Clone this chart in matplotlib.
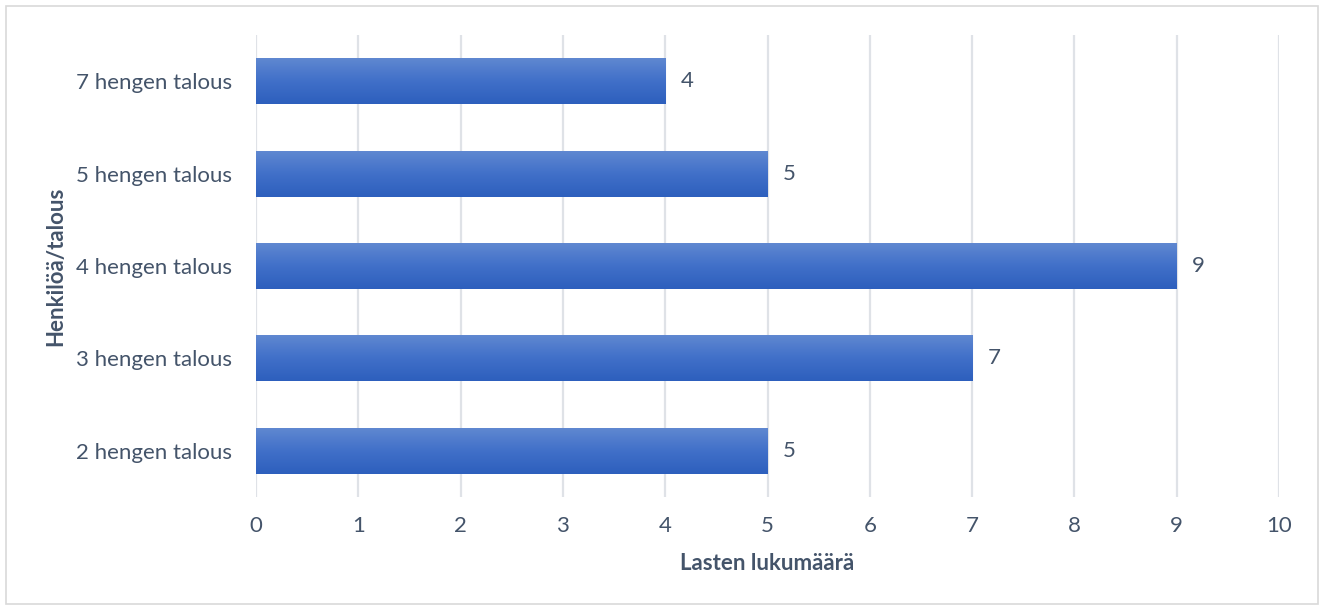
import matplotlib.pyplot as plt
import matplotlib.patches as mpatches
import numpy as np
from matplotlib.colors import LinearSegmentedColormap

# Household sizes and number of children per group
households = ["2 hengen talous", "3 hengen talous", "4 hengen talous",
              "5 hengen talous", "7 hengen talous"]
children = [5, 7, 9, 5, 4]
x_ticks = list(range(0, 11))

TEXT = "#44546a"
GRID = "#dfe2e7"
FS = 16

plt.rcParams["font.family"] = ["Lato", "DejaVu Sans"]

fig = plt.figure(figsize=(13.22, 6.08), dpi=100)
ax = fig.add_axes([256 / 1322, 1 - 497 / 608, (1279 - 256) / 1322, (497 - 35) / 608])

y = np.arange(len(households))
bars = ax.barh(y, children, height=0.5, color="#4472c4", zorder=2)

# vertical gradient fill inside each bar
grad = LinearSegmentedColormap.from_list("bar", ["#2d5fbd", "#4170c9", "#6189d1"])
ramp = np.linspace(0, 1, 256).reshape(-1, 1)
for b in bars:
    x0, y0 = b.get_x(), b.get_y()
    w, h = b.get_width(), b.get_height()
    im = ax.imshow(ramp, cmap=grad, aspect="auto", origin="lower",
                   extent=(x0, x0 + w, y0, y0 + h), zorder=3)
    im.set_clip_path(b)
    b.set_facecolor("none")

for yi, v in zip(y, children):
    ax.text(v + 0.15, yi, str(v), va="center", ha="left",
            fontsize=FS, color=TEXT)

ax.set_xlim(0, 10)
ax.set_ylim(-0.5, len(households) - 0.5)
ax.set_xticks(x_ticks)
ax.set_yticks(y)
ax.set_yticklabels(households)
ax.tick_params(axis="both", length=0, labelsize=FS, colors=TEXT)
ax.tick_params(axis="x", pad=14)
ax.tick_params(axis="y", pad=17)
ax.grid(axis="x", color=GRID, linewidth=1.6, zorder=0)
ax.set_axisbelow(True)
for s in ax.spines.values():
    s.set_visible(False)

ax.set_xlabel("Lasten lukumäärä", fontsize=FS, fontweight="bold", color=TEXT,
              labelpad=12)
ax.set_ylabel("Henkilöä/talous", fontsize=FS, fontweight="bold", color=TEXT,
              labelpad=7)

# thin outer border of the chart area
fig.patches.append(mpatches.Rectangle((6 / 1322, 4 / 608), 1312 / 1322, 598 / 608,
                                      transform=fig.transFigure, fill=False,
                                      edgecolor="#d9d9d9", linewidth=1.2))

fig.savefig("out.png", dpi=100, facecolor="white")
